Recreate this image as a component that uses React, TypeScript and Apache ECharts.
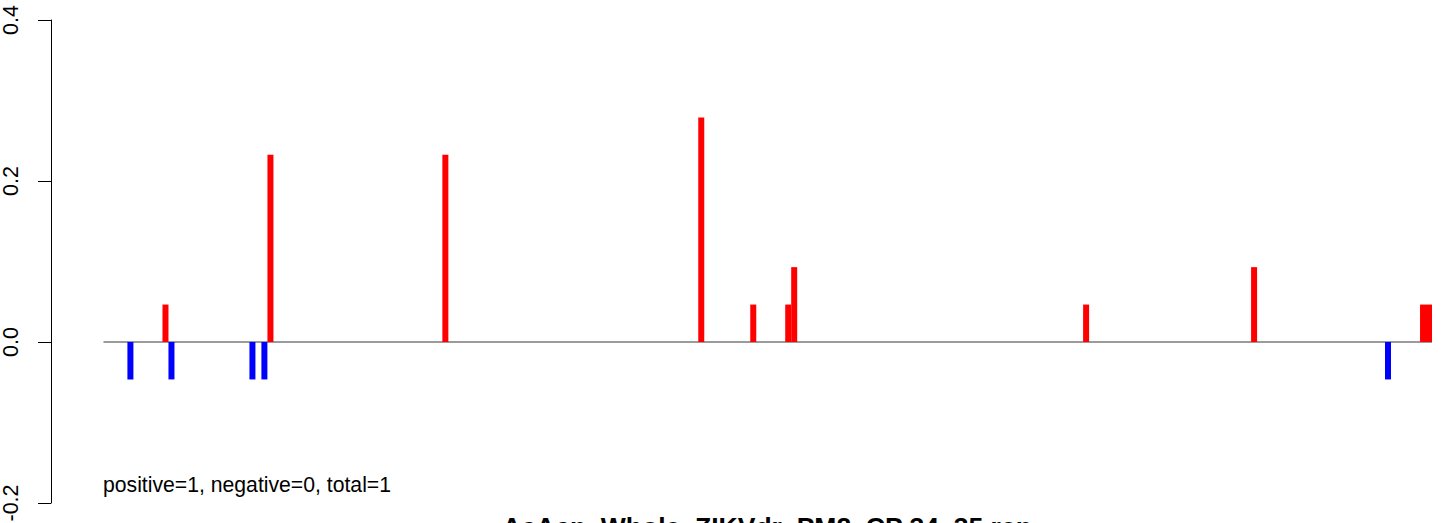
import React, { useEffect, useRef } from "react";
import * as echarts from "echarts";

// Positions along the sequence (line spans 0..seqLength) and signal values
const seqLength = 222;
const positions = [4.5, 10.36, 11.36, 24.89, 26.89, 27.9, 57.13, 99.89, 108.58, 114.42, 115.42, 164.2, 192.27, 214.65, 220.5, 221.5];
const values = [-0.0465, 0.0465, -0.0465, -0.0465, -0.0465, 0.2325, 0.2325, 0.279, 0.0465, 0.0465, 0.093, 0.0465, 0.093, -0.0465, 0.0465, 0.0465];
const yTicks = [-0.2, 0.0, 0.2, 0.4];
const summaryText = "positive=1, negative=0, total=1";
const titleText = "AcAcp_Whole_ZIKVdr_PM2_CP 34_35.rep";

const FONT = "'Liberation Sans', Arial, Helvetica, sans-serif";

export default function App() {
  const ref = useRef<HTMLDivElement>(null);
  useEffect(() => {
    if (!ref.current) return;
    const chart = echarts.init(ref.current, undefined, { renderer: "svg" });
    const pxPerUnit = 1329 / seqLength;
    const option = {
      animation: false,
      backgroundColor: "#ffffff",
      grid: {
        left: 51,
        right: 0,
        top: 20,
        bottom: 20,
        containLabel: false,
        outerBoundsMode: "none",
      },
      xAxis: {
        type: "value",
        min: -52.5 / pxPerUnit,
        max: seqLength + 12 / pxPerUnit,
        show: false,
      },
      yAxis: {
        type: "value",
        min: yTicks[0],
        max: yTicks[yTicks.length - 1],
        interval: 0.2,
        axisLine: { show: true, onZero: false, lineStyle: { color: "#000", width: 1 } },
        axisTick: { show: true, length: 13, lineStyle: { color: "#000", width: 1 } },
        splitLine: { show: false },
        axisLabel: {
          rotate: 90,
          margin: 29.5,
          color: "#000",
          fontSize: 21.5,
          fontFamily: FONT,
          formatter: (v: number) => v.toFixed(1),
        },
      },
      series: [
        {
          type: "line",
          data: [[0, 0], [seqLength, 0]],
          symbol: "none",
          lineStyle: { color: "#7a7a7a", width: 1.4 },
          z: 1,
          silent: true,
        },
        {
          type: "bar",
          data: positions.map((p, i) => [p, values[i]]),
          barWidth: 6,
          itemStyle: {
            color: (params: any) => (params.value[1] >= 0 ? "#ff0000" : "#0000ff"),
          },
          z: 2,
        },
      ],
      graphic: [
        {
          type: "text",
          left: 103,
          top: 474,
          style: { text: summaryText, fontSize: 21.2, fontFamily: FONT, fill: "#000" },
        },
        {
          type: "text",
          x: 767,
          y: 527,
          style: {
            text: titleText,
            fontSize: 26.5,
            fontWeight: "bold",
            fontFamily: FONT,
            fill: "#000",
            textAlign: "center",
            textVerticalAlign: "middle",
          },
        },
      ],
    };
    chart.setOption(option as any);
    return () => chart.dispose();
  }, []);
  return (
    <div
      ref={ref}
      style={{ position: "absolute", left: 0, top: 0, width: 1444, height: 523 }}
    />
  );
}
